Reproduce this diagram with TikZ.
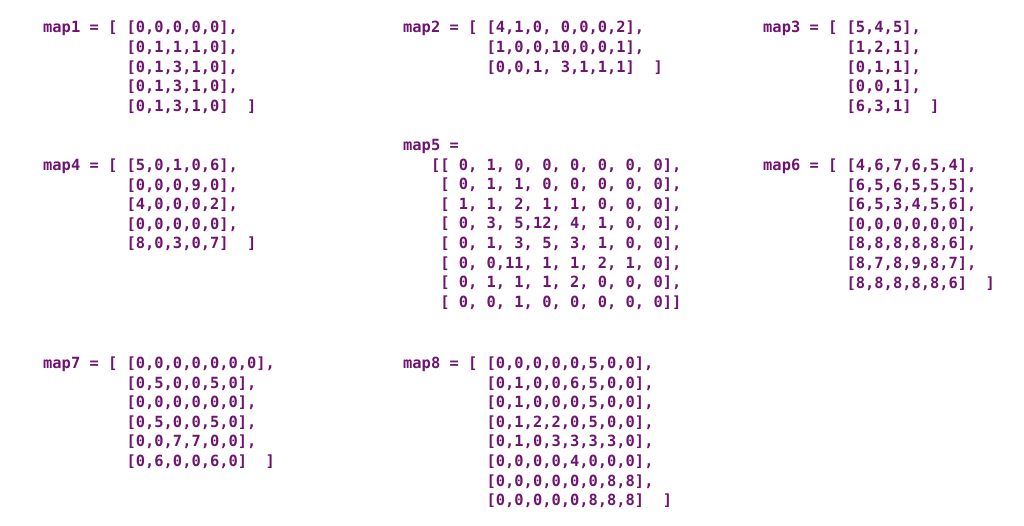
\documentclass[tikz,border=0pt]{standalone}
\usepackage{fontspec}
\setmonofont{DejaVu Sans Mono}
\definecolor{ink}{RGB}{110,20,112}
\tikzset{ln/.style={anchor=base west,inner sep=0pt,text=ink,font=\fontsize{15.4}{19.6}\selectfont\ttfamily\bfseries}}
\newcommand{\blk}[3]{\foreach \t [count=\i] in {#3}{\node[ln] (b#1\i) at ({#2},{526-\i*19.6}) {\t};}}
\begin{document}
\begin{tikzpicture}[x=1pt,y=1pt]
\useasboundingbox (0,0) rectangle (1024,526);
\begin{scope}[yshift=-13.4pt]
\blk{a}{43}{{map1~=~[~[0,0,0,0,0],},{~~~~~~~~~[0,1,1,1,0],},{~~~~~~~~~[0,1,3,1,0],},{~~~~~~~~~[0,1,3,1,0],},{~~~~~~~~~[0,1,3,1,0]~~]}}
\blk{b}{403}{{map2~=~[~[4,1,0,~0,0,0,2],},{~~~~~~~~~[1,0,0,10,0,0,1],},{~~~~~~~~~[0,0,1,~3,1,1,1]~~]}}
\blk{c}{763}{{map3~=~[~[5,4,5],},{~~~~~~~~~[1,2,1],},{~~~~~~~~~[0,1,1],},{~~~~~~~~~[0,0,1],},{~~~~~~~~~[6,3,1]~~]}}
\end{scope}
\begin{scope}[yshift=-131pt]
\blk{e}{403}{{map5~=},{~~~[[~0,~1,~0,~0,~0,~0,~0,~0],},{~~~~[~0,~1,~1,~0,~0,~0,~0,~0],},{~~~~[~1,~1,~2,~1,~1,~0,~0,~0],},{~~~~[~0,~3,~5,12,~4,~1,~0,~0],},{~~~~[~0,~1,~3,~5,~3,~1,~0,~0],},{~~~~[~0,~0,11,~1,~1,~2,~1,~0],},{~~~~[~0,~1,~1,~1,~2,~0,~0,~0],},{~~~~[~0,~0,~1,~0,~0,~0,~0,~0]]}}
\end{scope}
\begin{scope}[yshift=-151pt]
\blk{d}{43}{{map4~=~[~[5,0,1,0,6],},{~~~~~~~~~[0,0,0,9,0],},{~~~~~~~~~[4,0,0,0,2],},{~~~~~~~~~[0,0,0,0,0],},{~~~~~~~~~[8,0,3,0,7]~~]}}
\blk{f}{763}{{map6~=~[~[4,6,7,6,5,4],},{~~~~~~~~~[6,5,6,5,5,5],},{~~~~~~~~~[6,5,3,4,5,6],},{~~~~~~~~~[0,0,0,0,0,0],},{~~~~~~~~~[8,8,8,8,8,6],},{~~~~~~~~~[8,7,8,9,8,7],},{~~~~~~~~~[8,8,8,8,8,6]~~]}}
\end{scope}
\begin{scope}[yshift=-349pt]
\blk{g}{43}{{map7~=~[~[0,0,0,0,0,0,0],},{~~~~~~~~~[0,5,0,0,5,0],},{~~~~~~~~~[0,0,0,0,0,0],},{~~~~~~~~~[0,5,0,0,5,0],},{~~~~~~~~~[0,0,7,7,0,0],},{~~~~~~~~~[0,6,0,0,6,0]~~]}}
\blk{h}{403}{{map8~=~[~[0,0,0,0,0,5,0,0],},{~~~~~~~~~[0,1,0,0,6,5,0,0],},{~~~~~~~~~[0,1,0,0,0,5,0,0],},{~~~~~~~~~[0,1,2,2,0,5,0,0],},{~~~~~~~~~[0,1,0,3,3,3,3,0],},{~~~~~~~~~[0,0,0,0,4,0,0,0],},{~~~~~~~~~[0,0,0,0,0,0,8,8],},{~~~~~~~~~[0,0,0,0,0,8,8,8]~~]}}
\end{scope}
\end{tikzpicture}
\end{document}
